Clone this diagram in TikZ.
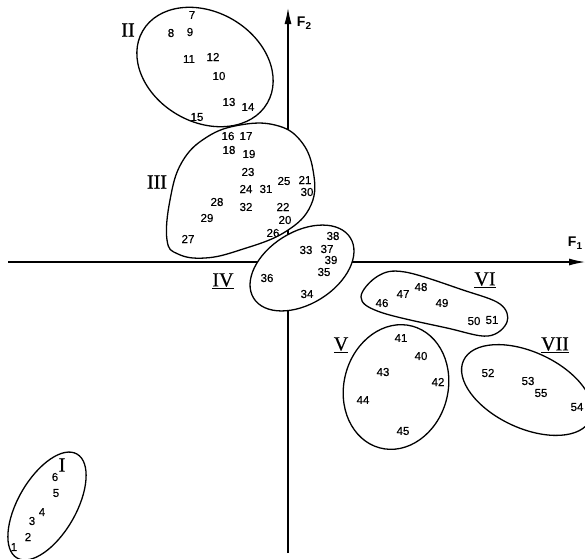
\documentclass[tikz,border=0pt]{standalone}
\usepackage{fontspec}
\setmainfont{Liberation Sans}
\newfontfamily\numfont[FakeBold=0.5]{Liberation Sans}
\newfontfamily\romfont[FakeBold=0.6]{Liberation Serif}
\usetikzlibrary{arrows.meta}
\begin{document}
\begin{tikzpicture}[x=1pt,y=-1pt,
  num/.style={font=\numfont\fontsize{11.5}{12}\selectfont, inner sep=0pt},
  rom/.style={font=\romfont\fontsize{20}{20}\selectfont, inner sep=0pt},
  axlab/.style={font=\bfseries\fontsize{14}{14}\selectfont, inner sep=0pt},
  cl/.style={line width=1.3pt, fill=white},
  ax/.style={line width=1.2pt, -{Latex[length=16pt,width=7pt]}}]
\useasboundingbox (0,0) rectangle (585,558);
\clip (0,0) rectangle (585,558);
% axes
\coordinate (xs) at (8,262);
\coordinate (xe) at (585,262);
\coordinate (ys) at (288,553);
\coordinate (ye) at (288,8);
\draw[ax] (xs) -- (xe);
\draw[ax] (ys) -- (ye);
\node[axlab] (F1) at (575,243) {F\raisebox{-0.35ex}{\fontsize{10}{10}\selectfont 1}};
\node[axlab] (F2) at (304,23) {F\raisebox{-0.35ex}{\fontsize{10}{10}\selectfont 2}};
% clusters
\draw[cl, rotate around={-30:(205,67)}] (205,67) ellipse [x radius=72pt, y radius=55pt];
\draw[cl] plot[smooth cycle, tension=0.7] coordinates {(207,137) (240,125) (275,125) (300,140) (313,170) (311,205) (285,232) (240,250) (205,258) (178,254) (167,240) (170,200) (182,162)};
\draw[cl, rotate around={32:(302,268)}] (302,268) ellipse [x radius=57pt, y radius=36pt];
\draw[cl] plot[smooth cycle, tension=0.6] coordinates {(361,297) (378,276) (405,272) (463,290) (500,304) (507,322) (488,336) (447,328) (380,312)};
\draw[cl, rotate around={-15:(396,387)}] (396,387) ellipse [x radius=52pt, y radius=63pt];
\draw[cl, rotate around={-25:(527,390)}] (527,390) ellipse [x radius=70pt, y radius=38pt];
\draw[cl, rotate around={60:(47,506)}] (47,506) ellipse [x radius=60pt, y radius=29pt];
% roman labels
\node[rom] (rI) at (62,465) {I};
\node[rom] (rII) at (128,30) {II};
\node[rom] (rIII) at (157,182) {III};
\node[rom] (rIV) at (223,281) {\underline{IV}};
\node[rom] (rV) at (341,345) {\underline{V}};
\node[rom] (rVI) at (485,280) {\underline{VI}};
\node[rom] (rVII) at (555,345) {\underline{VII}};
% point labels
\foreach \t/\x/\y in {1/14/547, 2/28/537, 3/32/521, 4/42/512, 5/56/493, 6/55/477,
  7/192/15, 8/171/33, 9/190/32, 10/219/76, 11/189/59, 12/213/57, 13/229/102, 14/248/107, 15/197/117,
  16/228/136, 17/246/136, 18/229/150, 19/249/154, 20/285/220, 21/305/180, 22/283/207, 23/248/172,
  24/246/189, 25/284/181, 26/273/233, 27/188/239, 28/217/202, 29/207/218, 30/307/192, 31/266/189, 32/246/207,
  33/306/250, 34/307/294, 35/324/272, 36/267/278, 37/327/249, 38/333/236, 39/331/260,
  40/421/356, 41/401/338, 42/438/382, 43/383/372, 44/363/400, 45/403/431,
  46/382/303, 47/403/294, 48/421/287, 49/442/303, 50/474/321, 51/492/320,
  52/488/373, 53/528/381, 54/577/407, 55/541/393}
  \node[num] (n\t) at (\x,\y) {\t};
\end{tikzpicture}
\end{document}
